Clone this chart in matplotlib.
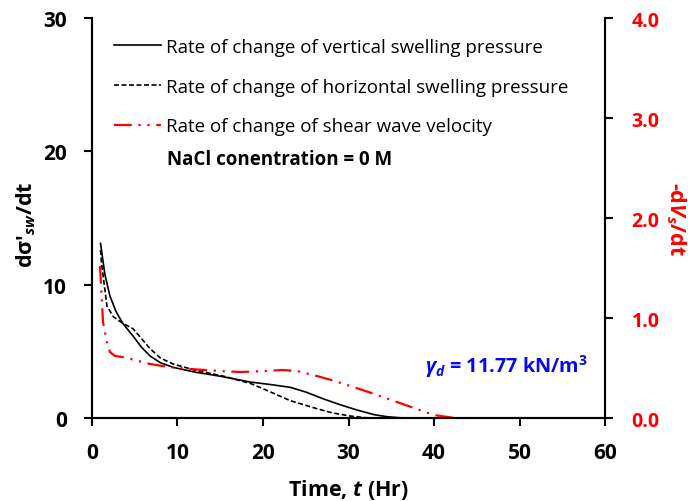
import matplotlib
matplotlib.use('Agg')
from matplotlib import pyplot as plt

plt.rcParams['font.family'] = ['Open Sans', 'DejaVu Sans']
plt.rcParams['mathtext.fontset'] = 'custom'
plt.rcParams['mathtext.rm'] = 'Open Sans:bold'
plt.rcParams['mathtext.it'] = 'Open Sans:bold:italic'
plt.rcParams['mathtext.bf'] = 'Open Sans:bold'

# vertical swelling pressure rate
t_vert = [1.0, 1.5, 2.1, 2.8, 3.6, 4.8, 5.8, 6.8, 8.0, 9.5, 12.0, 15.3, 18.5, 21.0, 23.2,
          25.0, 27.0, 29.0, 31.0, 33.0, 34.5, 36.0, 37.0]
r_vert = [13.1, 10.8, 9.15, 8.0, 7.1, 6.15, 5.3, 4.65, 4.15, 3.8, 3.45, 3.1, 2.7, 2.5, 2.3,
          1.95, 1.45, 1.0, 0.6, 0.25, 0.1, 0.02, 0.0]

# horizontal swelling pressure rate
t_horz = [1.0, 1.1, 1.75, 2.5, 3.6, 4.8, 5.6, 6.8, 8.0, 9.5, 12.0, 15.3, 18.5, 20.0, 23.2,
          26.3, 28.0, 30.2, 32.0, 33.0]
r_horz = [12.6, 11.7, 8.4, 7.6, 7.1, 6.7, 6.1, 5.2, 4.5, 4.05, 3.6, 3.15, 2.6, 2.2, 1.3,
          0.7, 0.4, 0.15, 0.02, 0.0]

# shear wave velocity rate (right axis)
t_vs = [0.94, 1.05, 1.29, 1.75, 2.1, 2.7, 3.6, 5.0, 6.8, 9.0, 11.5, 15.0, 17.5, 20.0, 22.3,
        24.0, 26.3, 28.0, 30.2, 32.0, 34.0, 36.0, 38.0, 40.0, 42.0, 43.0]
r_vs = [1.52, 1.34, 0.96, 0.76, 0.66, 0.62, 0.61, 0.58, 0.54, 0.51, 0.49, 0.47, 0.46, 0.47, 0.48,
        0.47, 0.42, 0.38, 0.32, 0.27, 0.21, 0.15, 0.09, 0.03, 0.005, 0.0]

fig = plt.figure(figsize=(6.88, 5.02), dpi=100)
ax = fig.add_axes([0.1337, 0.1653, 0.7457, 0.7967])
ax2 = ax.twinx()

l1, = ax.plot(t_vert, r_vert, color='black', lw=1.2, label='Rate of change of vertical swelling pressure')
l2, = ax.plot(t_horz, r_horz, color='black', lw=1.2, ls=(0, (3, 1.5)),
              label='Rate of change of horizontal swelling pressure')
l3, = ax2.plot(t_vs, r_vs, color='red', lw=1.6, ls=(0, (8, 3, 1, 3, 1, 3)),
               label='Rate of change of shear wave velocity')

ax.set_xlim(0, 60)
ax.set_ylim(0, 30)
ax2.set_ylim(0, 4.0)
ax.set_xticks(range(0, 61, 10))
ax.set_yticks([0, 10, 20, 30])
ax2.set_yticks([0, 1, 2, 3, 4])
ax2.set_yticklabels(['0.0', '1.0', '2.0', '3.0', '4.0'])

for a in (ax, ax2):
    for s in a.spines.values():
        s.set_linewidth(1.5)
ax.spines['top'].set_visible(False)
ax2.spines['top'].set_visible(False)

ax.tick_params(axis='y', direction='out', length=6, width=1.5, labelsize=15, pad=12)
ax.tick_params(axis='x', direction='out', length=6, width=1.5, labelsize=15, pad=11)
ax2.tick_params(axis='y', direction='out', length=6, width=1.5, labelsize=14, labelcolor='red', pad=13)
for lab in ax.get_xticklabels() + ax.get_yticklabels() + ax2.get_yticklabels():
    lab.set_fontweight('bold')

ax.set_xlabel('Time, $t$ (Hr)', fontsize=15.5, fontweight='bold', labelpad=10)
ax.set_ylabel("d\u03c3\u2032$_{sw}$/dt", fontsize=15.5, fontweight='bold')
ax.yaxis.set_label_coords(-0.105, 0.485)
ax2.set_ylabel('-d$V_s$/dt', fontsize=15.5, fontweight='bold', color='red', rotation=270)
ax2.yaxis.set_label_coords(1.16, 0.5)

leg = ax.legend(handles=[l1, l2, l3], loc='upper left', bbox_to_anchor=(0.01, 0.9925), frameon=False,
                fontsize=13.5, handlelength=2.5, handletextpad=0.3, labelspacing=1.16)

ax.text(0.146, 0.6475, 'NaCl conentration = 0 M', transform=ax.transAxes, fontsize=13.5,
        fontweight='bold', va='center')
ax.text(0.649, 0.13, r'$\gamma_d$ = 11.77 kN/m$^3$', transform=ax.transAxes, fontsize=14.3,
        fontweight='bold', color='#0a0ae6', va='center')

fig.savefig('out.png', dpi=100)
